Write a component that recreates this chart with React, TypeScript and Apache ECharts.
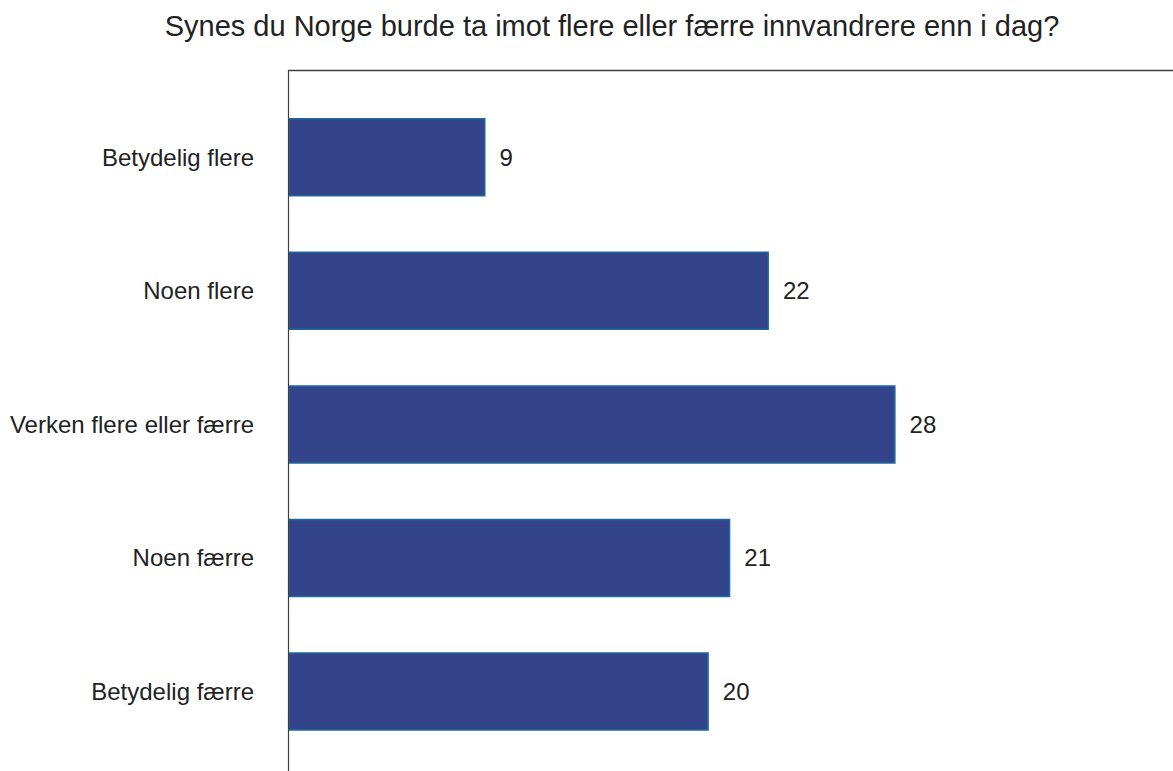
import React, { useEffect, useRef } from "react";
import * as echarts from "echarts";

const titleText = "Synes du Norge burde ta imot flere eller færre innvandrere enn i dag?";
const categories = [
  "Betydelig flere",
  "Noen flere",
  "Verken flere eller færre",
  "Noen færre",
  "Betydelig færre",
];
const values = [9.2, 22.4, 28.3, 20.6, 19.6];
const xMax = 41.22;

const FONT = '"Liberation Sans", Arial, Helvetica, sans-serif';

export default function App() {
  const ref = useRef<HTMLDivElement>(null);
  useEffect(() => {
    document.body.style.margin = "0";
    const chart = echarts.init(ref.current!, null, { renderer: "svg" });
    const W = 1173;
    const H = 771;
    const left = 288;
    const lineTop = 70.5;
    chart.setOption({
      animation: false,
      backgroundColor: "#ffffff",
      title: {
        text: titleText,
        left: 612,
        textAlign: "center",
        top: 11,
        padding: 0,
        textStyle: {
          fontFamily: FONT,
          fontSize: 29,
          fontWeight: "normal",
          color: "#222222",
        },
      },
      grid: {
        left: left,
        right: 0,
        top: 90.5,
        bottom: 12.7,
        containLabel: false,
      },
      xAxis: {
        type: "value",
        min: 0,
        max: xMax,
        show: false,
      },
      yAxis: {
        type: "category",
        data: categories,
        inverse: true,
        axisLine: { show: false },
        axisTick: { show: false },
        splitLine: { show: false },
        axisLabel: {
          margin: 34,
          fontFamily: FONT,
          fontSize: 24,
          color: "#222222",
        },
      },
      graphic: [
        {
          type: "line",
          shape: { x1: left + 0.5, y1: lineTop, x2: left + 0.5, y2: H },
          style: { stroke: "#404040", lineWidth: 1.2 },
          z: 10,
        },
        {
          type: "line",
          shape: { x1: left, y1: lineTop, x2: W, y2: lineTop },
          style: { stroke: "#404040", lineWidth: 1.5 },
          z: 10,
        },
      ],
      series: [
        {
          type: "bar",
          data: values,
          barWidth: 78.5,
          itemStyle: {
            color: "#34448a",
            borderColor: "#1d6a9c",
            borderWidth: 1.5,
          },
          label: {
            show: true,
            position: "right",
            distance: 14,
            fontFamily: FONT,
            fontSize: 24,
            color: "#222222",
            formatter: (p: any) => String(Math.round(p.value)),
          },
        },
      ],
    });
    return () => chart.dispose();
  }, []);
  return <div ref={ref} style={{ width: 1173, height: 771 }} />;
}
